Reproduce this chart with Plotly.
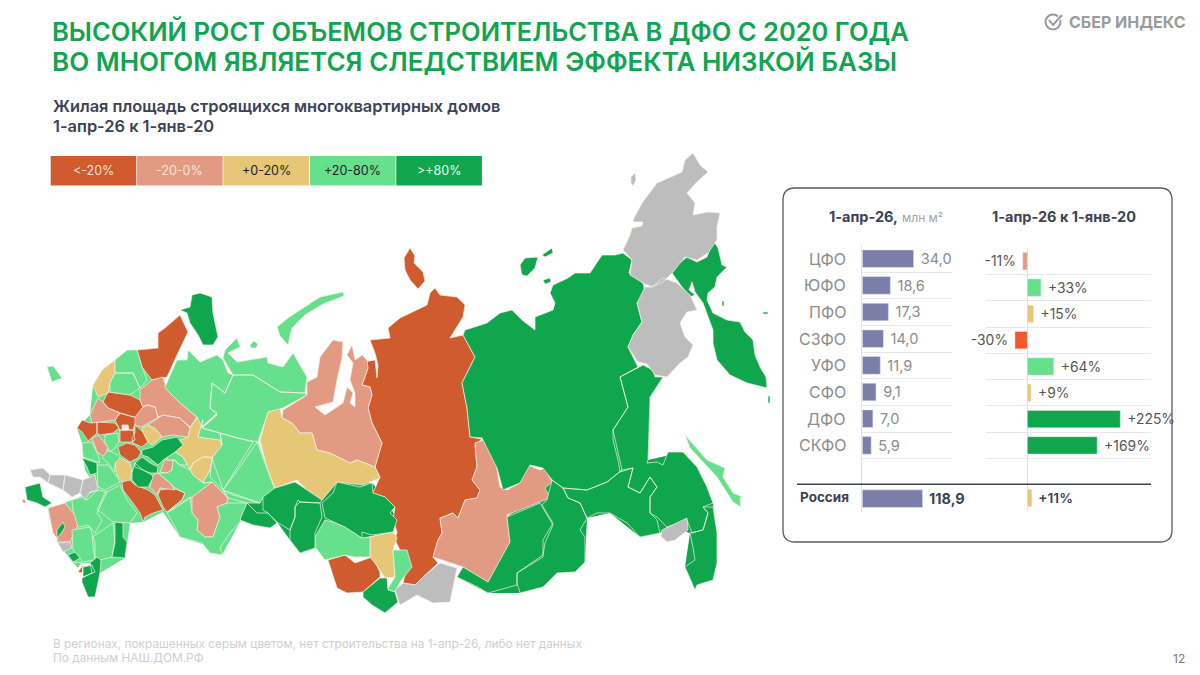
import plotly.graph_objects as go

# district table, right hand panel
districts = ['ЦФО', 'ЮФО', 'ПФО', 'СЗФО', 'УФО', 'СФО', 'ДФО', 'СКФО']
area_mln = [34.0, 18.6, 17.3, 14.0, 11.9, 9.1, 7.0, 5.9]
change_pct = [-11, 33, 15, -30, 64, 9, 225, 169]
change_colors = ['#e29a82', '#67e08d', '#e6c777', '#f05a28', '#67e08d', '#e6c777', '#0fa64e', '#0fa64e']
russia_area = 118.9
russia_change = 11

legend_labels = ['<-20%', '-20-0%', '+0-20%', '+20-80%', '>+80%']
legend_colors = ['#cf5b2f', '#e29a82', '#e6c777', '#67e08d', '#0fa64e']
legend_text = ['#f6e3da', '#f6e3da', '#222222', '#222222', '#eaf7ef']

# region outlines, grouped by colour class
# the two base layers only close small seams between neighbouring outlines
west_base = [
    [(93,385),(115,360),(137,350),(165,387),(202,428),(220,433),(258,442),(275,490),(263,510),(240,522),(222,555),(205,545),(180,537),(163,512),(143,522),(130,523),(125,558),(100,573),(90,563),(73,563),(58,543),(48,510),(72,500),(98,490),(85,470),(82,443),(77,428),(90,415)],
]
east_base = [
    [(241,517),(247,503),(263,497),(275,488),(295,482),(322,500),(337,482),(372,483),(385,497),(397,520),(393,532),(362,538),(315,548),(300,553),(290,540),(277,522),(253,525)],
    [(507,517),(552,480),(620,377),(663,377),(650,397),(648,460),(683,452),(713,503),(717,563),(697,585),(685,567),(690,533),(667,527),(660,533),(640,537),(610,513),(587,518),(585,562),(557,573),(520,593),(488,593),(457,577)],
]
dark_red = [
    [(370,340),(390,338),(388,328),(400,318),(427,305),(430,293),(435,288),(440,295),(457,297),(465,305),(463,317),(450,338),(463,335),(475,357),(462,383),(467,408),(470,437),(482,439),(475,445),(477,467),(472,480),(480,490),(477,498),(465,500),(458,518),(453,513),(440,518),(442,533),(438,540),(433,557),(438,563),(423,577),(415,585),(403,583),(408,563),(400,550),(395,540),(397,532),(393,520),(395,507),(385,497),(373,493),(380,477),(375,467),(382,443),(372,423),(368,408),(372,395),(370,387),(362,385),(368,368),(363,362),(375,360),(377,378),(378,365),(375,353)],
    [(404,258),(410,248),(415,256),(414,263),(423,272),(425,281),(418,289),(410,280),(405,270)],
    [(137,350),(158,348),(158,333),(165,328),(180,315),(188,332),(177,355),(167,377),(152,380),(142,367)],
    [(125,359),(129,359),(129,363),(125,363)],
    [(103,402),(108,392),(130,395),(140,400),(143,407),(137,418),(120,413),(108,408)],
    [(77,428),(82,420),(90,423),(97,422),(97,433),(88,441),(82,432)],
    [(97,422),(115,423),(119,428),(113,433),(100,435),(97,433)],
    [(115,420),(120,413),(137,418),(135,425),(133,430),(119,430),(119,428)],
    [(119,430),(133,430),(135,440),(131,442),(120,442),(120,430)],
    [(135,425),(143,432),(148,442),(142,447),(133,443),(132,438),(135,433)],
    [(118,447),(127,443),(135,445),(141,452),(138,458),(130,462),(120,455)],
    [(122,482),(128,478),(135,485),(148,490),(155,495),(163,510),(153,513),(145,517),(143,522),(140,513),(133,503),(123,490)],
    [(160,490),(173,488),(185,493),(182,500),(172,508),(167,512),(163,507),(158,495)],
    [(328,560),(345,555),(355,563),(372,557),(380,572),(380,577),(363,592),(347,593),(337,588)],
    [(78,572),(83,565),(82,573)],
]
salmon = [
    [(440,518),(453,513),(458,518),(465,500),(477,498),(480,490),(472,480),(477,467),(475,443),(483,440),(495,457),(500,487),(507,490),(520,483),(527,465),(540,470),(545,468),(552,482),(545,488),(550,498),(540,502),(507,515),(510,543),(488,582),(463,567),(433,557),(438,540),(442,533)],
    [(333,340),(343,342),(342,358),(337,380),(333,402),(315,407),(325,415),(343,403),(347,387),(353,393),(350,403),(355,407),(355,393),(350,380),(353,363),(347,355),(352,345),(355,360),(362,355),(367,360),(368,368),(362,385),(370,387),(372,395),(368,408),(372,423),(382,443),(375,467),(357,460),(350,463),(330,453),(317,450),(312,433),(300,433),(292,423),(282,418),(283,410),(307,395),(307,382),(317,377),(320,357)],
    [(90,415),(98,398),(103,402),(108,408),(120,413),(115,420),(100,422),(92,423)],
    [(135,417),(143,407),(147,405),(155,407),(158,418),(148,423),(142,427),(135,425)],
    [(140,390),(152,380),(163,377),(167,390),(180,403),(197,417),(190,427),(180,418),(163,415),(158,417),(155,407),(147,405),(143,407),(140,400)],
    [(158,418),(163,415),(180,418),(190,428),(188,437),(172,435),(162,437),(155,428),(148,425)],
    [(192,497),(212,482),(228,498),(227,503),(217,507),(220,517),(213,537),(205,537),(197,530),(198,520),(192,513)],
    [(160,472),(165,460),(173,460),(172,470),(167,473)],
    [(150,487),(153,475),(158,473),(170,483),(175,490),(160,488),(157,495)],
    [(92,438),(98,435),(108,447),(105,457),(97,452)],
    [(48,508),(65,503),(75,515),(78,525),(70,542),(60,542),(53,533)],
    [(22,500),(25,499),(26,503),(23,503)],
]
yellow = [
    [(260,440),(268,412),(280,408),(282,418),(292,423),(300,433),(312,433),(317,450),(330,453),(350,463),(357,460),(375,467),(380,478),(363,485),(337,482),(322,500),(307,490),(297,480),(275,488),(267,468)],
    [(93,385),(102,370),(115,360),(115,373),(110,383),(108,393),(98,397)],
    [(142,428),(148,425),(158,432),(162,437),(152,445),(148,442),(143,432)],
    [(190,428),(197,418),(203,420),(198,437),(220,440),(222,445),(212,458),(203,457),(193,463),(190,470),(183,457),(175,452),(183,445),(180,440),(188,437)],
    [(193,463),(203,457),(213,457),(210,470),(203,483),(193,475),(190,470)],
    [(115,463),(120,458),(130,463),(132,473),(130,480),(122,482),(117,475)],
    [(370,537),(393,532),(397,538),(393,550),(395,577),(385,578),(378,567),(370,557)],
]
light_green = [
    [(685,435),(707,460),(725,468),(723,477),(733,493),(743,497),(740,498),(741,507),(733,502),(717,477),(690,448)],
    [(257,442),(267,468),(275,490),(263,497),(260,503),(233,495),(223,490),(240,467)],
    [(220,433),(237,438),(253,442),(240,463),(223,490),(210,477),(212,458),(222,445)],
    [(165,387),(177,360),(187,360),(188,350),(200,362),(217,355),(223,360),(228,373),(233,375),(225,393),(212,383),(210,408),(217,413),(202,427),(197,417),(180,403),(167,390)],
    [(223,358),(225,350),(237,338),(240,347),(228,353),(237,362),(267,357),(268,363),(283,367),(293,353),(307,377),(305,393),(280,392),(253,375),(233,375)],
    [(250,345),(254,341),(258,344),(256,348),(251,348)],
    [(233,375),(253,375),(280,392),(305,393),(307,395),(283,408),(268,412),(258,442),(237,438),(220,433),(202,428),(217,415),(210,408),(212,383),(225,393)],
    [(277,327),(288,318),(300,310),(320,297),(343,292),(344,296),(323,304),(305,315),(292,328),(288,345),(280,336)],
    [(115,360),(127,350),(137,350),(142,367),(147,380),(140,388),(133,373),(115,373)],
    [(110,383),(115,373),(133,373),(140,388),(130,395),(110,392)],
    [(203,420),(202,428),(220,433),(222,445),(220,440),(198,437)],
    [(167,513),(190,497),(192,513),(198,520),(197,530),(205,537),(213,537),(220,517),(217,507),(227,503),(247,503),(240,522),(230,533),(220,548),(222,555),(210,553),(202,543),(180,537),(173,523)],
    [(167,473),(172,470),(173,460),(180,465),(190,470),(193,475),(203,483),(212,482),(192,497),(167,513),(172,508),(182,500),(185,493),(175,488),(170,483),(158,473)],
    [(167,452),(175,452),(183,457),(187,465),(180,465),(175,460),(167,460)],
    [(105,435),(118,433),(119,442),(115,448),(110,452),(105,442)],
    [(82,443),(92,442),(98,455),(100,463),(92,460),(83,457)],
    [(102,458),(108,450),(118,455),(120,458),(115,463),(115,472),(108,463)],
    [(97,465),(108,465),(117,477),(120,482),(105,490),(98,487)],
    [(97,510),(105,493),(120,485),(127,500),(137,513),(130,523),(113,522),(102,513)],
    [(72,500),(83,497),(87,500),(98,490),(107,492),(97,513),(102,520),(95,533),(88,525),(78,527),(73,510)],
    [(72,530),(90,527),(95,543),(95,560),(83,562),(73,550)],
    [(92,537),(113,523),(115,540),(112,557),(100,560),(95,560)],
    [(212,458),(223,490),(228,498),(212,482),(203,483),(210,470),(213,457)],
    [(223,490),(260,503),(247,503),(228,498)],
    [(47,367),(53,366),(62,378),(52,382)],
    [(325,520),(333,522),(345,527),(362,538),(370,537),(370,557),(355,557),(345,555),(325,560),(315,547),(315,537)],
    [(393,550),(407,550),(412,567),(400,582),(395,592),(387,590),(395,577)],
    [(73,563),(82,562),(78,568)],
]
dark_green = [
    [(672,273),(677,265),(687,257),(697,262),(707,257),(713,240),(718,248),(722,265),(727,267),(717,277),(715,287),(708,293),(707,300),(713,313),(727,320),(740,322),(745,332),(753,340),(755,355),(760,367),(766,377),(767,388),(747,383),(730,375),(717,360),(713,343),(713,330),(703,303),(695,292),(692,282),(689,290),(695,295),(690,297),(682,287)],
    [(465,330),(487,323),(500,313),(512,310),(522,320),(535,330),(535,317),(553,310),(555,303),(550,293),(553,285),(568,278),(575,273),(590,273),(602,255),(615,255),(623,253),(632,260),(629,273),(643,283),(645,292),(637,303),(642,322),(633,335),(628,347),(638,367),(620,377),(628,407),(613,430),(622,470),(607,482),(587,490),(563,488),(552,480),(543,468),(530,465),(520,483),(503,490),(497,468),(482,438),(470,437),(467,408),(462,383),(475,357),(463,335)],
    [(520,265),(525,258),(538,257),(535,268),(527,276),(522,275)],
    [(542,255),(552,248),(553,253),(545,257)],
    [(543,280),(550,278),(551,282),(545,284)],
    [(763,312),(768,312),(768,314),(763,314)],
    [(768,396),(770,396),(770,403),(768,403)],
    [(722,301),(724,301),(724,306),(722,306)],
    [(620,377),(638,367),(643,365),(653,370),(655,377),(663,377),(650,397),(648,460),(647,463),(657,462),(663,465),(668,452),(683,452),(697,467),(707,487),(713,503),(703,507),(708,513),(703,530),(692,533),(687,520),(667,527),(657,517),(650,513),(650,497),(657,487),(650,477),(640,493),(628,487),(633,468),(620,472),(618,460),(613,440),(613,430),(628,407)],
    [(563,488),(587,490),(607,482),(622,470),(633,468),(628,487),(640,493),(650,477),(657,487),(650,497),(650,513),(657,520),(660,533),(640,537),(627,523),(610,513),(597,513),(587,518),(580,503),(568,498)],
    [(690,533),(703,530),(708,513),(703,507),(713,507),(717,533),(717,563),(713,580),(697,585),(695,590),(685,567),(695,560),(693,547)],
    [(552,480),(563,488),(568,498),(580,503),(587,518),(580,530),(585,537),(585,562),(575,572),(557,573),(543,587),(520,593),(517,583),(517,573),(543,557),(543,540),(553,523),(542,505),(547,500)],
    [(507,517),(540,503),(553,525),(545,543),(543,555),(517,573),(517,585),(505,588),(488,593),(478,587),(457,577),(463,567),(488,582),(510,542)],
    [(180,310),(190,307),(192,295),(200,293),(212,297),(213,313),(218,337),(213,345),(203,345),(198,335),(190,323),(187,313)],
    [(142,450),(153,447),(162,440),(177,437),(183,445),(175,452),(163,460),(158,465),(148,457),(142,455)],
    [(135,463),(142,457),(150,463),(158,467),(157,473),(150,473),(143,470),(135,467)],
    [(132,473),(135,463),(143,470),(152,475),(153,478),(148,487),(138,487),(132,480)],
    [(82,458),(88,460),(97,463),(97,473),(90,475),(87,467)],
    [(25,487),(40,483),(43,497),(52,503),(45,507),(37,503),(27,500)],
    [(57,530),(63,522),(65,527),(62,532),(57,538)],
    [(115,522),(123,523),(123,537),(127,542),(125,558),(112,557),(115,543)],
    [(90,563),(97,557),(101,560),(100,573),(95,597),(88,597),(82,582),(82,578),(92,573)],
    [(68,555),(75,552),(80,558),(73,562)],
    [(83,567),(92,565),(95,572),(83,577)],
    [(241,517),(247,503),(257,513),(268,513),(277,523),(270,528),(253,525),(240,520)],
    [(263,497),(275,488),(295,482),(307,490),(322,500),(320,503),(300,502),(298,500),(295,507),(295,517),(290,530),(277,522),(268,513),(263,510)],
    [(295,507),(300,502),(320,503),(322,517),(315,533),(315,548),(300,553),(290,540),(290,530),(295,517)],
    [(322,503),(333,493),(337,482),(360,487),(372,483),(373,493),(385,497),(395,507),(390,513),(397,520),(393,532),(372,535),(362,532),(362,538),(345,527),(333,522),(325,518)],
    [(363,592),(380,578),(387,578),(388,590),(395,592),(398,602),(385,613),(372,605),(363,597)],
]
grey = [
    [(623,250),(630,235),(632,228),(642,226),(643,222),(634,222),(633,220),(642,203),(657,183),(682,172),(685,160),(693,153),(700,165),(708,172),(697,182),(687,193),(695,203),(693,215),(708,212),(720,213),(717,227),(717,240),(708,253),(697,260),(685,257),(673,272),(663,282),(652,287),(643,283),(630,275),(632,260)],
    [(631,177),(635,173),(636,180),(633,186),(631,183)],
    [(663,278),(677,283),(690,295),(697,310),(687,312),(680,323),(685,337),(693,345),(688,357),(680,363),(667,377),(655,375),(647,364),(638,362),(628,347),(633,335),(642,322),(637,303),(645,287),(652,287)],
    [(662,530),(687,518),(688,530),(675,540),(667,542),(661,536)],
    [(395,590),(403,583),(415,585),(425,575),(440,563),(457,568),(450,602),(433,603),(417,595),(400,605)],
    [(30,470),(43,468),(50,475),(48,483),(40,477),(33,477)],
    [(50,475),(65,475),(63,490),(48,483)],
    [(65,475),(83,480),(80,493),(72,497),(63,490)],
    [(83,480),(95,475),(98,490),(90,492),(85,500),(80,493)],
    [(58,543),(70,542),(72,548),(63,552)],
]
moscow = [[(122,425),(128,425),(129,430),(122,430)]]

map_classes = [
    (west_base, '#67e08d', 0), (east_base, '#0fa64e', 0),
    (dark_red, '#cf5b2f', 0.7), (salmon, '#e29a82', 0.7), (yellow, '#e6c777', 0.7),
    (light_green, '#67e08d', 0.7), (dark_green, '#0fa64e', 0.7), (grey, '#bdbdbd', 0.7), (moscow, '#f7efe9', 0.7),
]

FONT = 'Inter'
GREY_TEXT = '#8c8c8c'
INK = '#3d4255'


def rings(polys):
    xs, ys = [], []
    for poly in polys:
        xs += [p[0] for p in poly] + [poly[0][0], None]
        ys += [p[1] for p in poly] + [poly[0][1], None]
    return xs, ys


fig = go.Figure()

for polys, color, border in map_classes:
    xs, ys = rings(polys)
    fig.add_trace(go.Scatter(
        x=xs, y=ys, mode='lines', fill='toself', fillcolor=color,
        line=dict(color='#f6f1e4', width=border), hoverinfo='skip',
    ))

rows = list(range(len(districts)))
fig.add_trace(go.Bar(
    x=area_mln, y=rows, orientation='h', xaxis='x2', yaxis='y2', width=0.66,
    marker_color='#7a7ea8',
    text=['\u00a0' + f'{v:.1f}'.replace('.', ',') for v in area_mln],
    textposition='outside', cliponaxis=False,
    textfont=dict(family=FONT, size=16.5, color=GREY_TEXT),
))
# the Russia bar is drawn to its own, shorter scale
fig.add_trace(go.Bar(
    x=[russia_area], y=[9], orientation='h', xaxis='x3', yaxis='y2', width=0.66,
    marker_color='#7a7ea8', text=['\u00a0' + f'{russia_area:.1f}'.replace('.', ',')],
    textposition='outside', cliponaxis=False,
    textfont=dict(family=FONT, size=14.5, color=INK, weight=700),
))
fig.add_trace(go.Bar(
    x=change_pct, y=rows, orientation='h', xaxis='x4', yaxis='y4', width=0.66,
    marker_color=change_colors,
    text=[f'{v:+d}%' + '\u00a0' if v < 0 else '\u00a0' + f'{v:+d}%' for v in change_pct],
    textposition='outside', cliponaxis=False,
    textfont=dict(family=FONT, size=16, color='#555555'),
))
fig.add_trace(go.Bar(
    x=[russia_change], y=[9], orientation='h', xaxis='x4', yaxis='y4', width=0.66,
    marker_color='#e6c777', text=['\u00a0' + f'{russia_change:+d}%'],
    textposition='outside', cliponaxis=False,
    textfont=dict(family=FONT, size=15, color=INK, weight=600),
))


def note(x, y, text, size, color, anchor='left', weight=400):
    fig.add_annotation(
        x=x, y=y, xref='x', yref='y', text=text, showarrow=False, xanchor=anchor, yanchor='middle',
        font=dict(family=FONT, size=size, color=color, weight=weight), align='left',
    )


note(50, 31, 'ВЫСОКИЙ РОСТ ОБЪЕМОВ СТРОИТЕЛЬСТВА В ДФО С 2020 ГОДА', 25.5, '#12a44f', weight=600)
note(50, 61, 'ВО МНОГОМ ЯВЛЯЕТСЯ СЛЕДСТВИЕМ ЭФФЕКТА НИЗКОЙ БАЗЫ', 26, '#12a44f', weight=600)
note(51, 106, 'Жилая площадь строящихся многоквартирных домов', 16.4, INK, weight=600)
note(51, 126, '1-апр-26 к 1-янв-20', 16.4, INK, weight=600)
note(51, 644, 'В регионах, покрашенных серым цветом, нет строительства на 1-апр-26, либо нет данных', 11.85, '#cfcfcf')
note(51, 658, 'По данным НАШ.ДОМ.РФ', 11.85, '#cfcfcf')
note(1187, 658, '12', 12, '#777777', anchor='right')
note(1067, 22, 'СБЕР ИНДЕКС', 16, '#9b9b9b', weight=700)

note(827, 216, '<b>1-апр-26,</b> <span style="font-size:12px;color:#a5a5a5">млн м²</span>', 14.5, INK)
note(1064, 216, '1-апр-26 к 1-янв-20', 14.5, INK, anchor='center', weight=700)
note(798, 497, 'Россия', 13.5, INK, weight=700)
for i, name in enumerate(districts):
    fig.add_annotation(
        x=0, y=i, xref='x2', yref='y2', text=name, showarrow=False, xanchor='right', xshift=-14,
        font=dict(family=FONT, size=16, color=GREY_TEXT),
    )

shapes = [
    dict(type='path', xref='x', yref='y', layer='below', line=dict(color='#5b5b5b', width=1.3),
         path='M 795 188 L 1160 188 Q 1172 188 1172 200 L 1172 530 Q 1172 542 1160 542 '
              'L 795 542 Q 783 542 783 530 L 783 200 Q 783 188 795 188 Z'),
    dict(type='line', xref='x', yref='y', x0=797, x1=1151, y0=484.3, y1=484.3, layer='above',
         line=dict(color=INK, width=1.6)),
    dict(type='circle', xref='x', yref='y', x0=1045.5, x1=1060.5, y0=14.5, y1=29.5,
         line=dict(color='#9b9b9b', width=2)),
    dict(type='path', xref='x', yref='y', line=dict(color='white', width=4),
         path='M 1049 20 L 1053 25 L 1063 14'),
    dict(type='path', xref='x', yref='y', line=dict(color='#9b9b9b', width=2),
         path='M 1049 20 L 1053 25 L 1062 15'),
]
for i, (label, color, tcolor) in enumerate(zip(legend_labels, legend_colors, legend_text)):
    x0 = 50.7 + i * 86.4
    shapes.append(dict(type='rect', xref='x', yref='y', x0=x0, x1=x0 + 85.6, y0=156, y1=185.5,
                       fillcolor=color, line=dict(width=0)))
    note(x0 + 42.8, 170, label, 12.5, tcolor, anchor='center')

row_grid = [-0.5, 0.5, 1.5, 2.5, 3.5, 4.5, 5.5, 6.5, 7.5, 9.5]
hidden = dict(visible=False, showgrid=False, zeroline=False)
fig.update_layout(
    width=1200, height=675, autosize=False, showlegend=False, barmode='overlay',
    margin=dict(l=0, r=0, t=0, b=0), paper_bgcolor='white', plot_bgcolor='rgba(0,0,0,0)',
    shapes=shapes,
    xaxis=dict(range=[0, 1200], domain=[0, 1], **hidden),
    yaxis=dict(range=[675, 0], domain=[0, 1], **hidden),
    xaxis2=dict(range=[0, 59.4], domain=[862.3 / 1200, 952 / 1200], anchor='y2', **hidden),
    xaxis3=dict(range=[0, 176.9], domain=[862.3 / 1200, 952 / 1200], anchor='y2', overlaying='x2', **hidden),
    yaxis2=dict(range=[9.5, -0.5], domain=[1 - 512 / 675, 1 - 245.4 / 675], anchor='x2',
                tickvals=row_grid, showticklabels=False, ticks='', showgrid=True, gridcolor='#e8e8e8',
                zeroline=False, showline=True, linecolor='#e4e4e4', linewidth=1),
    xaxis4=dict(range=[-100, 299.3], domain=[986 / 1200, 1151 / 1200], anchor='y4',
                showticklabels=False, ticks='', showgrid=False, zeroline=True,
                zerolinecolor='#e0e0e0', zerolinewidth=1),
    yaxis4=dict(range=[9.5, -0.5], domain=[1 - 511.2 / 675, 1 - 248.1 / 675], anchor='x4',
                tickvals=row_grid, showticklabels=False, ticks='', showgrid=True, gridcolor='#e8e8e8',
                zeroline=False),
)

fig.write_html('out.html', config={'displayModeBar': False}, post_script="document.body.style.margin='0'")
